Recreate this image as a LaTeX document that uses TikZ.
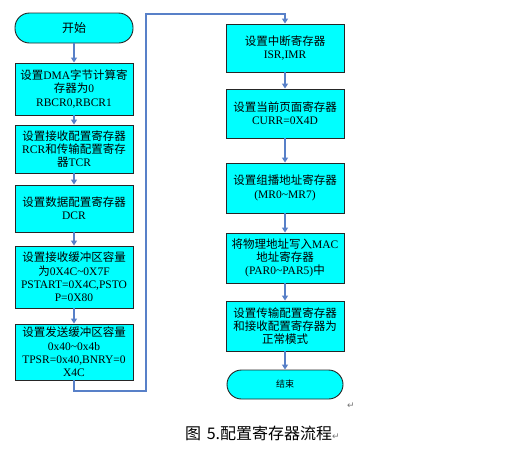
\documentclass[tikz,border=0pt]{standalone}
\usepackage{fontspec}
\setmainfont{Liberation Serif}
\newfontfamily\cjk{Noto Sans CJK SC}
\newfontfamily\symf{DejaVu Sans}
\usetikzlibrary{arrows.meta}
\newcommand\zh[1]{{\cjk #1}}
\newcommand\tld{\textasciitilde}
\definecolor{arrowblue}{RGB}{88,128,200}
\definecolor{boxcyan}{RGB}{0,255,255}
\tikzset{
  procbox/.style={draw=black!85, fill=boxcyan, line width=0.9pt, minimum width=118pt,
    text width=116pt, align=center, inner sep=0pt,
    font=\fontsize{11.5}{13.3}\selectfont},
  termbox/.style={procbox, rounded corners=14.5pt},
  arr/.style={draw=arrowblue, line width=1.2pt, -{Triangle[length=5pt,width=6pt]}},
  retmark/.style={text=black!55, font=\symf\fontsize{9}{10}\selectfont, inner sep=0pt}
}
\begin{document}
\begin{tikzpicture}[x=1pt,y=-1pt]
\useasboundingbox (0,0) rectangle (521,448);
% left column
\node[termbox, minimum height=30pt, font=\cjk\fontsize{12}{13}\selectfont] (start) at (74,28) {开始};
\node[procbox, minimum height=52pt] (L1) at (74,89) {\zh{设置}DMA\zh{字节计算寄}\\\zh{存器为}0\\RBCR0,RBCR1};
\node[procbox, minimum height=48pt] (L2) at (74,149) {\zh{设置接收配置寄存器}\\RCR\zh{和传输配置寄存}\\\zh{器}TCR};
\node[procbox, minimum height=47pt] (L3) at (74,208.5) {\zh{设置数据配置寄存器}\\DCR};
\node[procbox, minimum height=62pt] (L4) at (74,277) {\zh{设置接收缓冲区容量}\\\zh{为}0X4C\tld0X7F\\PSTART=0X4C,PSTO\\P=0X80};
\node[procbox, minimum height=56pt] (L5) at (74,352) {\zh{设置发送缓冲区容量}\\0x40\tld0x4b\\TPSR=0x40,BNRY=0\\X4C};
% right column
\node[procbox, minimum height=48pt] (R1) at (285,48) {\zh{设置中断寄存器}\\ISR,IMR};
\node[procbox, minimum height=49pt] (R2) at (285,113.5) {\zh{设置当前页面寄存器}\\CURR=0X4D};
\node[procbox, minimum height=50pt] (R3) at (285,188) {\zh{设置组播地址寄存器}\\(MR0\tld MR7)};
\node[procbox, minimum height=50pt] (R4) at (285,258) {\zh{将物理地址写入}MAC\\\zh{地址寄存器}\\(PAR0\tld PAR5)\zh{中}};
\node[procbox, minimum height=50pt] (R5) at (285,326) {\zh{设置传输配置寄存器}\\\zh{和接收配置寄存器为}\\\zh{正常模式}};
\node[termbox, minimum width=116pt, minimum height=29pt, font=\cjk\fontsize{9}{10}\selectfont] (stop) at (285,384.5) {结束};
% connectors
\draw[arr] (start) -- (L1);
\draw[arr] (L1) -- (L2);
\draw[arr] (L2) -- (L3);
\draw[arr] (L3) -- (L4);
\draw[arr] (L4) -- (L5);
\coordinate (b1) at (146,391);
\coordinate (t1) at (146,14);
\draw[arr] (L5.south) |- (b1) -- (t1) -| (R1.north);
\draw[arr] (R1) -- (R2);
\draw[arr] (R2) -- (R3);
\draw[arr] (R3) -- (R4);
\draw[arr] (R4) -- (R5);
\draw[arr] (R5) -- (stop);
% marks and caption
\node[retmark] (rm1) at (351,406) {↵};
\node[inner sep=0pt, anchor=west] (cap) at (185,433) {\cjk\fontsize{16}{18}\selectfont 图\hspace{2pt} 5.配置寄存器流程{\color{black!55}\symf\fontsize{9}{10}\selectfont ↵}};
\end{tikzpicture}
\end{document}
